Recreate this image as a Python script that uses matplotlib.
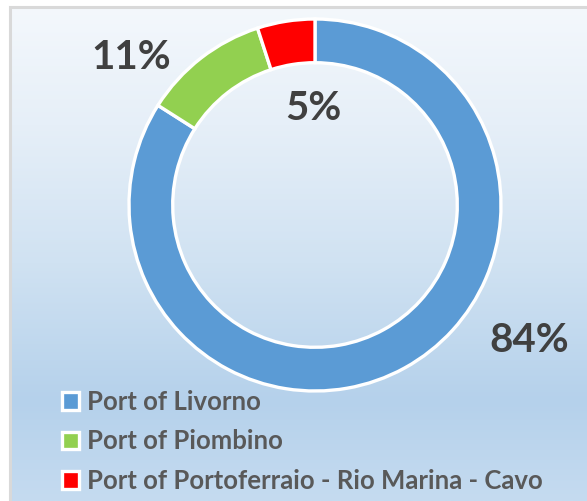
import numpy as np
import matplotlib
matplotlib.use("Agg")
import matplotlib.pyplot as plt
from matplotlib.colors import to_rgb
from matplotlib.patches import Rectangle

labels = ["Port of Livorno", "Port of Piombino", "Port of Portoferraio - Rio Marina - Cavo"]
values = [84, 11, 5]
colors = ["#5B9BD5", "#92D050", "#FF0000"]
pct_labels = ["84%", "11%", "5%"]

W, H = 587, 501
fig = plt.figure(figsize=(W / 100, H / 100), dpi=100)
ax = fig.add_axes([0, 0, 1, 1])

# background gradient (top -> bottom)
stops_y = [0, 120, 260, 400, 501]
stops_c = ["#F4F8FC", "#E6EFF8", "#D0E2F2", "#B5D1EB", "#C5DBF0"]
ys = np.linspace(0, 501, 300)
cols = np.array([to_rgb(c) for c in stops_c])
grad = np.stack([np.interp(ys, stops_y, cols[:, i]) for i in range(3)], axis=-1)
grad = grad[:, None, :]
ax.imshow(grad, extent=[10, W, 0, H - 6], aspect="auto", origin="upper", zorder=0)
ax.add_patch(Rectangle((9.5, -10), W + 10, H - 6.5 + 10, fill=False,
                       edgecolor="#D9D9D9", linewidth=2.2, zorder=1))

cx, cy, R = 315, H - 205, 186
wedges, _ = ax.pie(values, colors=colors, startangle=90, counterclock=False,
                   radius=R, center=(cx, cy),
                   wedgeprops=dict(width=R * 0.235, edgecolor="white", linewidth=2.4),
                   frame=True)
for w in wedges:
    w.set_zorder(2)

ax.set_xlim(0, W)
ax.set_ylim(0, H)
ax.set_aspect("auto")
ax.axis("off")

label_pos = [(529, 341), (131, 57), (313, 108)]
for txt, (x, y) in zip(pct_labels, label_pos):
    ax.text(x, H - y, txt, ha="center", va="center", fontsize=29,
            fontweight="bold", color="#404040", family="Lato", zorder=3)

leg = ax.legend(wedges, labels, loc="upper left", bbox_to_anchor=(62 / W, 1 - 390 / H),
                frameon=False, handlelength=0.68, handleheight=0.68, handletextpad=0.3,
                labelspacing=0.6, borderaxespad=0, borderpad=0,
                prop=dict(family="Lato", weight="bold", size=18.5))
for t in leg.get_texts():
    t.set_color("#595959")

fig.savefig("out.png", dpi=100)
